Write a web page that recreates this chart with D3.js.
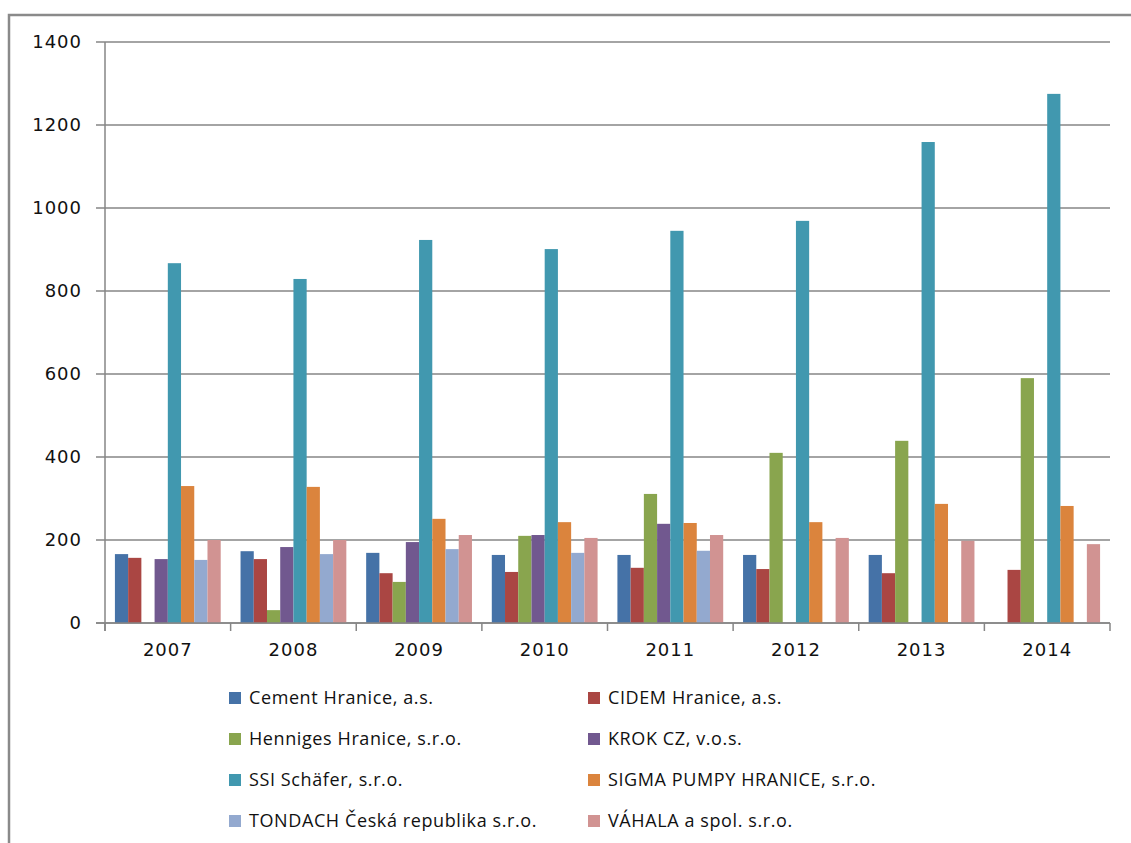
<!DOCTYPE html>
<html>
<head>
<meta charset="utf-8">
<script src="https://cdn.jsdelivr.net/npm/d3@7"></script>
<style>
  body { margin: 0; background: #fff; }
  svg { display: block; }
</style>
</head>
<body>
<svg id="chart"></svg>
<script>
const width = 1131;
const height = 843;

// data
const years = ["2007", "2008", "2009", "2010", "2011", "2012", "2013", "2014"];
const companies = [
  "Cement Hranice, a.s.",
  "CIDEM Hranice, a.s.",
  "Henniges Hranice, s.r.o.",
  "KROK CZ, v.o.s.",
  "SSI Schäfer, s.r.o.",
  "SIGMA PUMPY HRANICE, s.r.o.",
  "TONDACH Česká republika s.r.o.",
  "VÁHALA a spol. s.r.o."
];
const cement   = [166, 173, 169, 164, 164, 164, 164, 0];
const cidem    = [157, 154, 120, 123, 133, 130, 120, 128];
const henniges = [0, 31, 99, 210, 311, 410, 439, 590];
const krok     = [154, 183, 195, 212, 239, 0, 0, 0];
const ssi      = [867, 829, 923, 901, 945, 969, 1159, 1275];
const sigma    = [330, 328, 251, 243, 241, 243, 287, 282];
const tondach  = [152, 166, 178, 169, 174, 0, 0, 0];
const vahala   = [200, 200, 212, 205, 212, 205, 198, 190];
const yTicks = [0, 200, 400, 600, 800, 1000, 1200, 1400];

const seriesValues = [cement, cidem, henniges, krok, ssi, sigma, tondach, vahala];
const colors = ["#4572a7", "#aa4643", "#89a54e", "#71588f", "#4198af", "#db843d", "#93a9cf", "#d19392"];

const svg = d3.select("#chart")
    .attr("width", width)
    .attr("height", height);

// outer frame
svg.append("rect")
    .attr("x", 9).attr("y", 15)
    .attr("width", 1140).attr("height", 850)
    .attr("fill", "none")
    .attr("stroke", "#8a8a8a")
    .attr("stroke-width", 2.5);

const margin = {left: 105, right: 1110, top: 42, bottom: 623};

const x0 = d3.scaleBand()
    .domain(years)
    .range([margin.left, margin.right]);

const x1 = d3.scaleBand()
    .domain(d3.range(companies.length))
    .range([0, x0.bandwidth()])
    .paddingOuter(0.75);

const y = d3.scaleLinear()
    .domain([0, 1400])
    .range([margin.bottom, margin.top]);

const gridColor = "#868686";

// gridlines
svg.append("g")
  .selectAll("line")
  .data(yTicks)
  .join("line")
    .attr("x1", margin.left - 9)
    .attr("x2", margin.right)
    .attr("y1", d => y(d))
    .attr("y2", d => y(d))
    .attr("stroke", gridColor)
    .attr("stroke-width", 1.5);

// y axis line
svg.append("line")
    .attr("x1", margin.left).attr("x2", margin.left)
    .attr("y1", margin.top).attr("y2", margin.bottom + 8)
    .attr("stroke", gridColor)
    .attr("stroke-width", 1.5);

// y labels
svg.append("g")
  .selectAll("text")
  .data(yTicks)
  .join("text")
    .attr("x", 82)
    .attr("y", d => y(d))
    .attr("dy", "0.35em")
    .attr("text-anchor", "end")
    .attr("font-family", "DejaVu Sans")
    .attr("font-size", 18)
    .attr("letter-spacing", 1)
    .attr("fill", "#111")
    .text(d => d);

// bars
const groups = svg.append("g")
  .selectAll("g")
  .data(years)
  .join("g")
    .attr("transform", d => `translate(${x0(d)},0)`);

groups.selectAll("rect")
  .data((d, i) => seriesValues.map((vals, s) => ({s: s, v: vals[i]})))
  .join("rect")
    .attr("x", d => x1(d.s))
    .attr("width", x1.bandwidth())
    .attr("y", d => y(d.v))
    .attr("height", d => y(0) - y(d.v))
    .attr("fill", d => colors[d.s]);

// x axis line + ticks
svg.append("line")
    .attr("x1", margin.left - 9).attr("x2", margin.right)
    .attr("y1", y(0)).attr("y2", y(0))
    .attr("stroke", gridColor)
    .attr("stroke-width", 1.5);

const tickXs = years.map(d => x0(d)).concat([margin.right]);
svg.append("g")
  .selectAll("line")
  .data(tickXs)
  .join("line")
    .attr("x1", d => d).attr("x2", d => d)
    .attr("y1", y(0)).attr("y2", y(0) + 8)
    .attr("stroke", gridColor)
    .attr("stroke-width", 1.5);

svg.append("g")
  .selectAll("text")
  .data(years)
  .join("text")
    .attr("x", d => x0(d) + x0.bandwidth() / 2)
    .attr("y", 650)
    .attr("dy", "0.35em")
    .attr("text-anchor", "middle")
    .attr("font-family", "DejaVu Sans")
    .attr("font-size", 18)
    .attr("letter-spacing", 1)
    .attr("fill", "#111")
    .text(d => d);

// legend, two columns
const legend = svg.append("g")
  .selectAll("g")
  .data(companies)
  .join("g")
    .attr("transform", (d, i) => `translate(${i % 2 === 0 ? 229 : 588},${698 + Math.floor(i / 2) * 41})`);

legend.append("rect")
    .attr("x", 0).attr("y", -6)
    .attr("width", 12).attr("height", 12)
    .attr("fill", (d, i) => colors[i]);

legend.append("text")
    .attr("x", 20)
    .attr("y", 0)
    .attr("dy", "0.35em")
    .attr("font-family", "Open Sans")
    .attr("font-size", 18)
    .attr("letter-spacing", 0.6)
    .attr("fill", "#111")
    .text(d => d);
</script>
</body>
</html>
